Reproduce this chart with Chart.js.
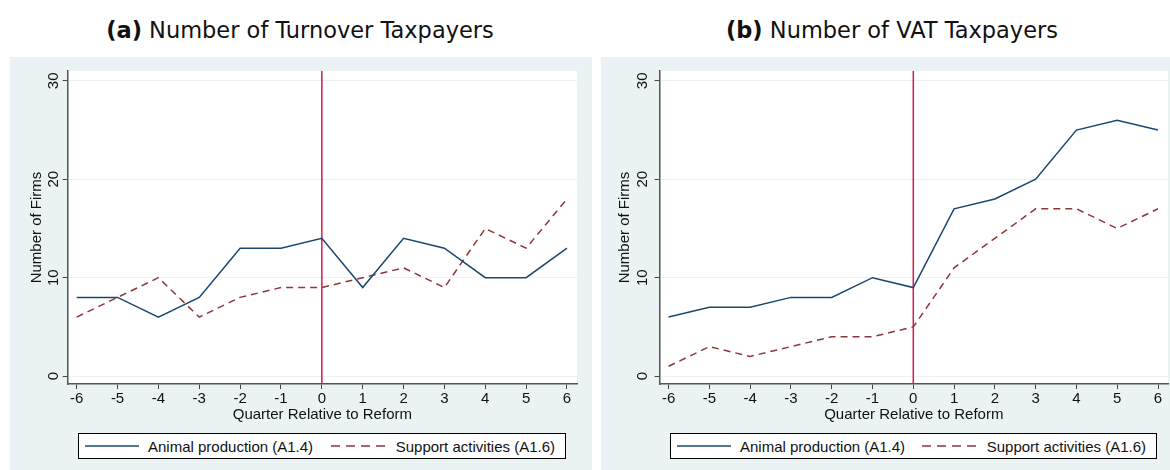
<!DOCTYPE html>
<html>
<head>
<meta charset="utf-8">
<script src="https://cdn.jsdelivr.net/npm/chart.js@4.4.1/dist/chart.umd.min.js"></script>
<style>
  body { margin: 0; width: 1170px; height: 470px; background: #fff; position: relative; overflow: hidden;
         font-family: "Liberation Sans", Arial, sans-serif; }
  .ttl { position: absolute; top: 17px; width: 600px; line-height: 26px; text-align: center;
         font-family: "DejaVu Sans", sans-serif; font-size: 22.5px; color: #111; white-space: nowrap; }
  .panel { position: absolute; top: 57px; height: 413px; background: #eaf2f3; }
  .box { position: absolute; left: 0; top: 0; height: 370px; }
  .legend { position: absolute; top: 376px; height: 26px; box-sizing: border-box; background: #fff;
            border: 1px solid #000; display: flex; align-items: center; justify-content: space-between;
            padding: 0 10px 0 6px; font-size: 15px; color: #111; }
  .item { display: flex; align-items: center; }
  .item svg { margin-right: 9px; }
</style>
</head>
<body>

<div class="ttl" style="left:0px"><b>(a)</b> Number of Turnover Taxpayers</div>
<div class="ttl" style="left:592px"><b>(b)</b> Number of VAT Taxpayers</div>

<div class="panel" style="left:10px;width:582px">
  <div class="box" style="width:582px"><canvas id="chartA"></canvas></div>
  <div class="legend" style="left:68px;width:488px">
    <div class="item"><svg width="54" height="4"><line x1="0" y1="2" x2="54" y2="2" stroke="#1a476f" stroke-width="1.5"/></svg>Animal production (A1.4)</div>
    <div class="item"><svg width="56" height="4"><line x1="0" y1="2" x2="56" y2="2" stroke="#90353b" stroke-width="1.5" stroke-dasharray="9 6"/></svg>Support activities (A1.6)</div>
  </div>
</div>

<div class="panel" style="left:601px;width:569px">
  <div class="box" style="width:569px"><canvas id="chartB"></canvas></div>
  <div class="legend" style="left:69px;width:487px">
    <div class="item"><svg width="54" height="4"><line x1="0" y1="2" x2="54" y2="2" stroke="#1a476f" stroke-width="1.5"/></svg>Animal production (A1.4)</div>
    <div class="item"><svg width="56" height="4"><line x1="0" y1="2" x2="56" y2="2" stroke="#90353b" stroke-width="1.5" stroke-dasharray="9 6"/></svg>Support activities (A1.6)</div>
  </div>
</div>

<script>
// datos
var quarters = [-6, -5, -4, -3, -2, -1, 0, 1, 2, 3, 4, 5, 6];
var yTicks = [0, 10, 20, 30];

// (a) turnover
var turnoverAnimal  = [8, 8, 6, 8, 13, 13, 14, 9, 14, 13, 10, 10, 13];
var turnoverSupport = [6, 8, 10, 6, 8, 9, 9, 10, 11, 9, 15, 13, 18];

// (b) VAT
var vatAnimal  = [6, 7, 7, 8, 8, 10, 9, 17, 18, 20, 25, 26, 25];
var vatSupport = [1, 3, 2, 3, 4, 4, 5, 11, 14, 17, 17, 15, 17];

var reformQuarter = 0;

Chart.defaults.font.family = '"Liberation Sans", Arial, sans-serif';
Chart.defaults.color = '#111';

// fondo blanco del area y linea vertical de la reforma
const plotStuff = {
  id: 'plotStuff',
  beforeDraw(chart) {
    const a = chart.chartArea;
    const ctx = chart.ctx;
    ctx.save();
    ctx.fillStyle = '#fff';
    ctx.fillRect(a.left, a.top, a.right - a.left, a.bottom - a.top);
    ctx.restore();
  },
  beforeDatasetsDraw(chart) {
    const a = chart.chartArea;
    const ctx = chart.ctx;
    const x = chart.scales.x.getPixelForValue(reformQuarter);
    ctx.save();
    ctx.strokeStyle = '#d81b4b';
    ctx.lineWidth = 1.5;
    ctx.beginPath();
    ctx.moveTo(x, a.top);
    ctx.lineTo(x, a.bottom);
    ctx.stroke();
    ctx.restore();
  }
};

function toPoints(vals) {
  return quarters.map((q, i) => ({ x: q, y: vals[i] }));
}

function makeChart(id, animal, support, axisWidth, padRight, tickPad, titlePad) {
  return new Chart(document.getElementById(id), {
    type: 'line',
    data: {
      datasets: [{
        label: 'Animal production (A1.4)',
        data: toPoints(animal),
        borderColor: '#1a476f',
        borderWidth: 1.5,
        pointRadius: 0,
        tension: 0
      }, {
        label: 'Support activities (A1.6)',
        data: toPoints(support),
        borderColor: '#90353b',
        borderWidth: 1.5,
        borderDash: [7, 5],
        pointRadius: 0,
        tension: 0
      }]
    },
    options: {
      responsive: true,
      maintainAspectRatio: false,
      animation: false,
      layout: { padding: { top: 14, right: padRight, left: 0, bottom: 0 } },
      plugins: { legend: { display: false }, tooltip: { enabled: false } },
      scales: {
        x: {
          type: 'linear',
          min: -6.22,
          max: 6.245,
          afterBuildTicks: s => { s.ticks = quarters.map(v => ({ value: v })); },
          afterFit: s => { s.height = 43; },
          grid: { drawOnChartArea: false, tickLength: 5, tickColor: '#444' },
          border: { color: '#555', width: 1.5 },
          ticks: { font: { size: 15 }, color: '#111', padding: 1, autoSkip: false, maxRotation: 0 },
          title: { display: true, text: 'Quarter Relative to Reform', font: { size: 15 }, color: '#111', padding: { top: 0, bottom: 3 } }
        },
        y: {
          min: -0.8,
          max: 31,
          afterBuildTicks: s => { s.ticks = yTicks.map(v => ({ value: v })); },
          afterFit: s => { s.width = axisWidth; },
          grid: { color: '#eaf2f3', lineWidth: 1, tickLength: 5, tickColor: '#444' },
          border: { color: '#555', width: 1.5 },
          ticks: { font: { size: 15 }, color: '#111', minRotation: 90, maxRotation: 90, crossAlign: 'center', padding: tickPad },
          title: { display: true, text: 'Number of Firms', font: { size: 15 }, color: '#111', padding: { top: titlePad, bottom: 0 } }
        }
      }
    },
    plugins: [plotStuff]
  });
}

makeChart('chartA', turnoverAnimal, turnoverSupport, 57.7, 15, 0, 18);
makeChart('chartB', vatAnimal, vatSupport, 58.6, 2, 3, 15);
</script>
</body>
</html>
